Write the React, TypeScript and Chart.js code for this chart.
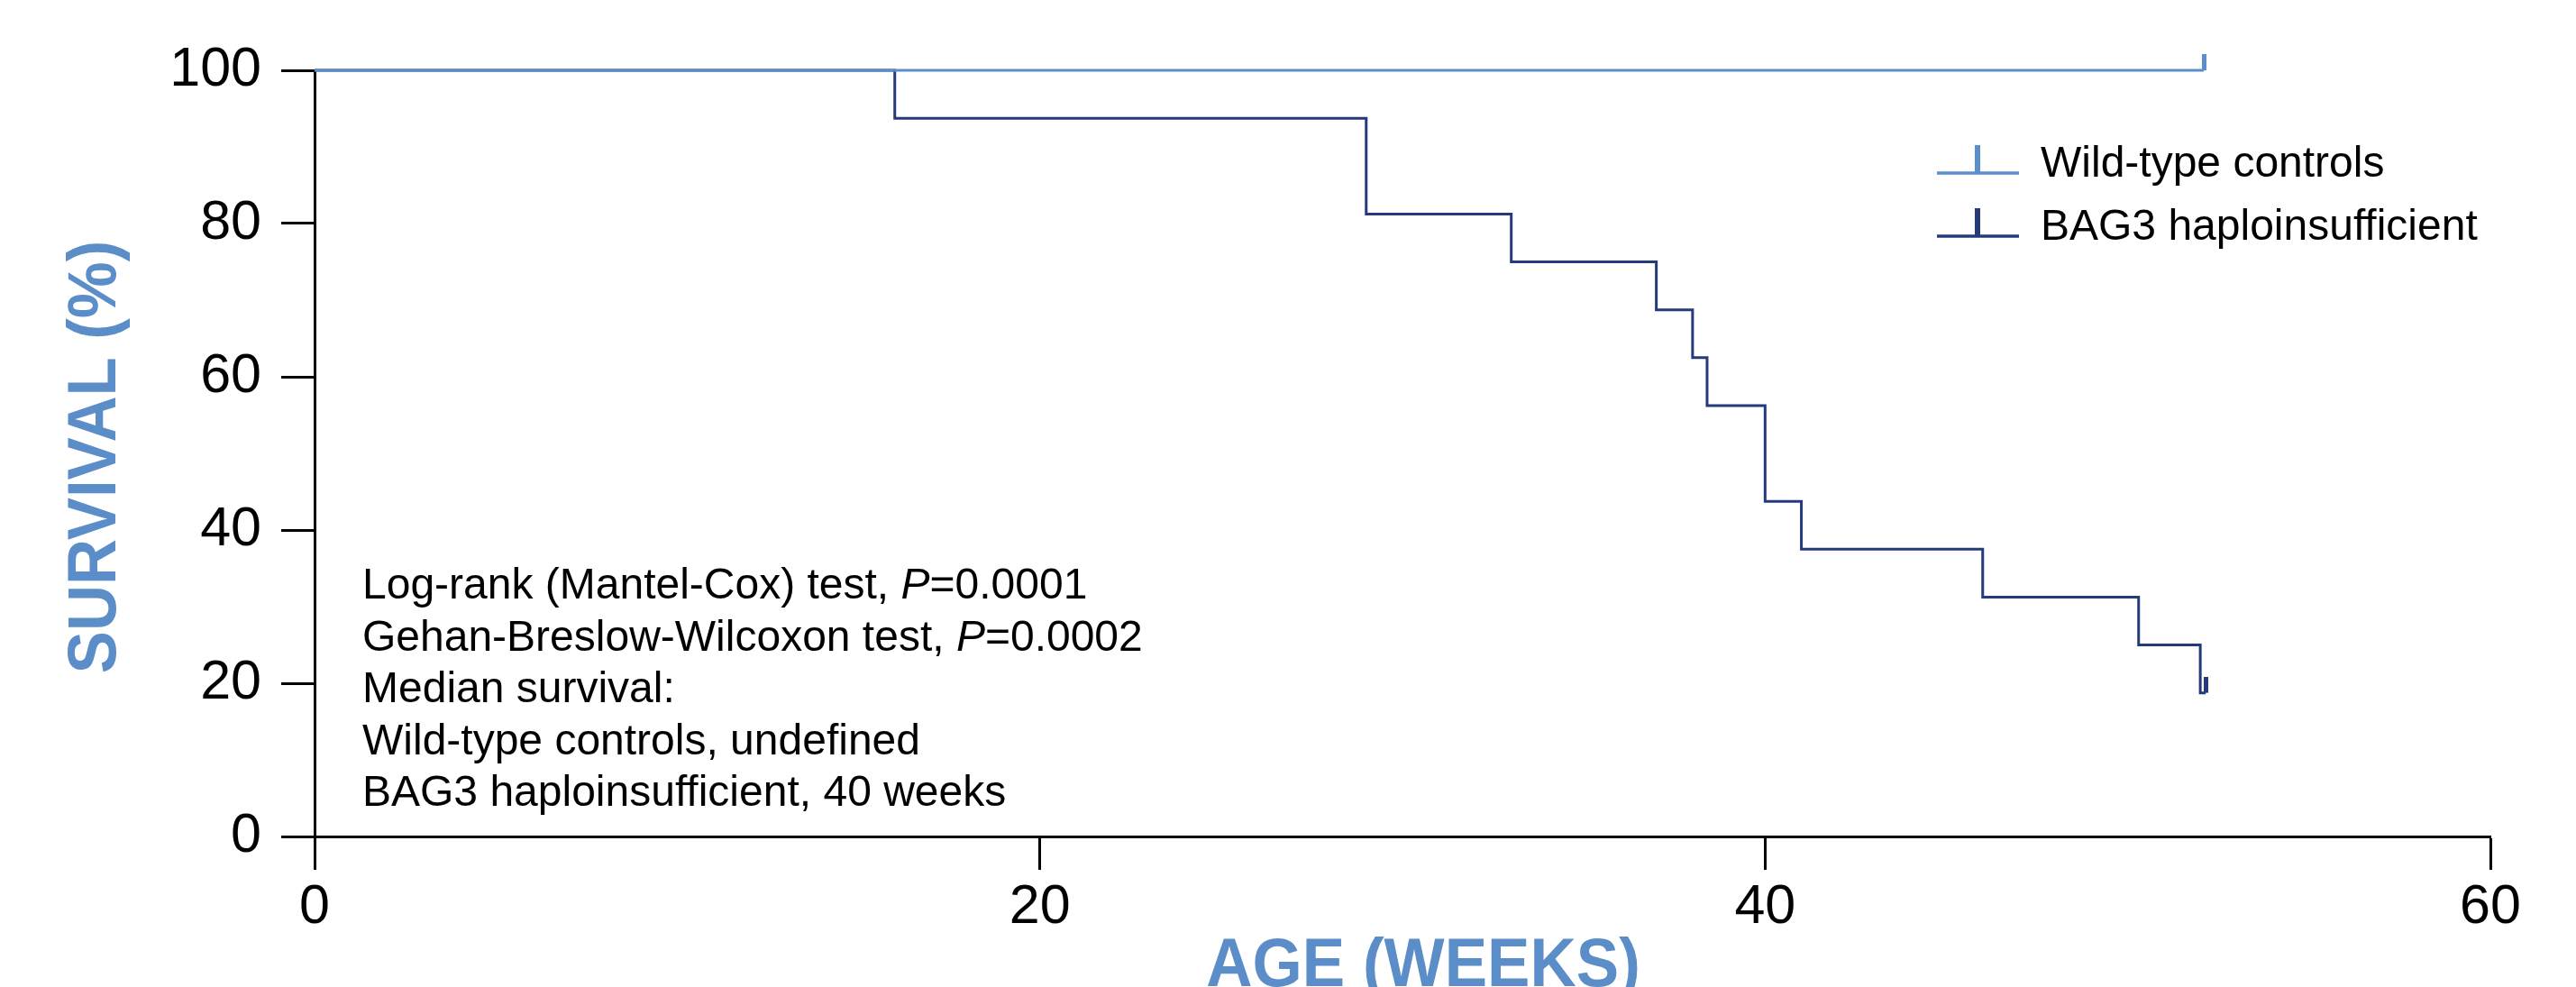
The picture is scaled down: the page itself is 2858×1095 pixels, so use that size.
import React, { useEffect, useRef } from "react";
import { Chart, registerables } from "chart.js";

Chart.register(...registerables);

// ---------------- data ----------------
const seriesLabels = ["Wild-type controls", "BAG3 haploinsufficient"];

const wtTimes = [0, 52.1];
const wtSurvival = [100, 100];
const wtCensorTimes = [52.1];
const wtCensorSurvival = [100];

const bagTimes = [0, 16, 29, 33, 37, 38, 38.4, 40, 41, 46, 50.3, 52, 52.15];
const bagSurvival = [100, 93.75, 81.25, 75, 68.75, 62.5, 56.25, 43.75, 37.5, 31.25, 25, 18.75, 18.75];
const bagCensorTimes = [52.15];
const bagCensorSurvival = [18.75];

const xTicks = [0, 20, 40, 60];
const yTicks = [0, 20, 40, 60, 80, 100];
const xTitle = "AGE (WEEKS)";
const yTitle = "SURVIVAL (%)";

type Seg = { t: string; i?: boolean };
const statsLines: Seg[][] = [
  [{ t: "Log-rank (Mantel-Cox) test, " }, { t: "P", i: true }, { t: "=0.0001" }],
  [{ t: "Gehan-Breslow-Wilcoxon test, " }, { t: "P", i: true }, { t: "=0.0002" }],
  [{ t: "Median survival:" }],
  [{ t: "Wild-type controls, undefined" }],
  [{ t: "BAG3 haploinsufficient, 40 weeks" }],
];

// ---------------- style ----------------
const FONT = '"Liberation Sans", Arial, Helvetica, sans-serif';
const WT_COLOR = "#5b8fcb";
const BAG_COLOR = "#243a7a";
const TITLE_COLOR = "#5b8dc9";

const W = 2858;
const H = 1095;

const overlayPlugin = {
  id: "overlay",
  afterDraw(chart: any) {
    const ctx: CanvasRenderingContext2D = chart.ctx;
    const area = chart.chartArea;

    // axis titles
    ctx.save();
    ctx.fillStyle = TITLE_COLOR;
    ctx.font = `bold 76px ${FONT}`;
    ctx.textAlign = "center";
    ctx.textBaseline = "alphabetic";
    ctx.save();
    ctx.translate((area.left + area.right) / 2 + 23, H - 1);
    ctx.scale(0.935, 1);
    ctx.fillText(xTitle, 0, 0);
    ctx.restore();
    ctx.save();
    ctx.translate(128, (area.top + area.bottom) / 2 + 4);
    ctx.rotate(-Math.PI / 2);
    ctx.scale(0.93, 1);
    ctx.fillText(yTitle, 0, 0);
    ctx.restore();
    ctx.restore();

    // statistics text
    ctx.save();
    ctx.fillStyle = "#000";
    ctx.textAlign = "left";
    ctx.textBaseline = "alphabetic";
    const sx = 402;
    const sy0 = 664;
    const lh = 57.5;
    statsLines.forEach((line, li) => {
      let x = sx;
      const y = sy0 + li * lh;
      line.forEach((seg) => {
        ctx.font = `${seg.i ? "italic " : ""}48px ${FONT}`;
        ctx.fillText(seg.t, x, y);
        x += ctx.measureText(seg.t).width;
      });
    });
    ctx.restore();

    // legend
    ctx.save();
    const items = chart.data.datasets.filter((d: any) => !d.censor);
    items.forEach((ds: any, i: number) => {
      const ly = 192 + i * 70;
      ctx.strokeStyle = ds.borderColor;
      ctx.fillStyle = ds.borderColor;
      ctx.lineWidth = 3.5;
      ctx.beginPath();
      ctx.moveTo(2149, ly);
      ctx.lineTo(2240, ly);
      ctx.stroke();
      ctx.fillRect(2191, ly - 31, 6, 31);
      ctx.fillStyle = "#000";
      ctx.font = `48px ${FONT}`;
      ctx.textAlign = "left";
      ctx.textBaseline = "alphabetic";
      ctx.fillText(ds.label, 2264, ly + 4);
    });
    ctx.restore();
  },
};

export default function App() {
  const ref = useRef<HTMLCanvasElement>(null);

  useEffect(() => {
    const canvas = ref.current;
    if (!canvas) return;

    const makeTick = (color: string, w: number, h: number) => {
      const c = document.createElement("canvas");
      c.width = w;
      c.height = h * 2;
      const g = c.getContext("2d")!;
      g.fillStyle = color;
      g.fillRect(0, 0, w, h);
      return c;
    };

    const toPts = (xs: number[], ys: number[]) => xs.map((x, i) => ({ x, y: ys[i] }));

    const axisCommon = {
      grid: {
        display: true,
        drawOnChartArea: false,
        drawTicks: true,
        tickLength: 37,
        tickWidth: 3,
        tickColor: "#000",
      },
      border: { display: true, color: "#000", width: 3 },
    };

    const chart = new Chart(canvas, {
      type: "line",
      data: {
        datasets: [
          {
            label: seriesLabels[0],
            data: toPts(wtTimes, wtSurvival),
            borderColor: WT_COLOR,
            backgroundColor: WT_COLOR,
            borderWidth: 3,
            stepped: true,
            pointRadius: 0,
            fill: false,
            clip: false,
          },
          {
            label: seriesLabels[1],
            data: toPts(bagTimes, bagSurvival),
            borderColor: BAG_COLOR,
            backgroundColor: BAG_COLOR,
            borderWidth: 3,
            stepped: true,
            pointRadius: 0,
            fill: false,
            clip: false,
          },
          {
            label: seriesLabels[0] + " censored",
            censor: true,
            data: toPts(wtCensorTimes, wtCensorSurvival),
            showLine: false,
            pointStyle: makeTick(WT_COLOR, 5, 18),
            pointRadius: 5,
            clip: false,
          } as any,
          {
            label: seriesLabels[1] + " censored",
            censor: true,
            data: toPts(bagCensorTimes, bagCensorSurvival),
            showLine: false,
            pointStyle: makeTick(BAG_COLOR, 5, 18),
            pointRadius: 5,
            clip: false,
          } as any,
        ],
      },
      options: {
        responsive: false,
        maintainAspectRatio: false,
        devicePixelRatio: 1,
        animation: false,
        layout: { padding: { left: 0, right: 95, top: 78, bottom: 0 } },
        plugins: {
          legend: { display: false },
          tooltip: { enabled: false },
        },
        scales: {
          x: {
            type: "linear",
            min: 0,
            max: 60,
            afterBuildTicks: (s: any) => {
              s.ticks = xTicks.map((v) => ({ value: v }));
            },
            afterFit: (s: any) => {
              s.height = 167;
            },
            ticks: {
              color: "#000",
              font: { family: FONT, size: 61 },
              padding: 6,
              maxRotation: 0,
              autoSkip: false,
            },
            ...axisCommon,
          },
          y: {
            type: "linear",
            min: 0,
            max: 100,
            afterBuildTicks: (s: any) => {
              s.ticks = yTicks.map((v) => ({ value: v }));
            },
            afterFit: (s: any) => {
              s.width = 349;
            },
            ticks: {
              color: "#000",
              font: { family: FONT, size: 61 },
              padding: 22,
              autoSkip: false,
            },
            ...axisCommon,
          },
        },
      } as any,
      plugins: [overlayPlugin],
    });

    return () => chart.destroy();
  }, []);

  return (
    <div style={{ position: "fixed", left: 0, top: 0, width: W, height: H, background: "#fff" }}>
      <canvas ref={ref} width={W} height={H} style={{ display: "block", width: W, height: H }} />
    </div>
  );
}
